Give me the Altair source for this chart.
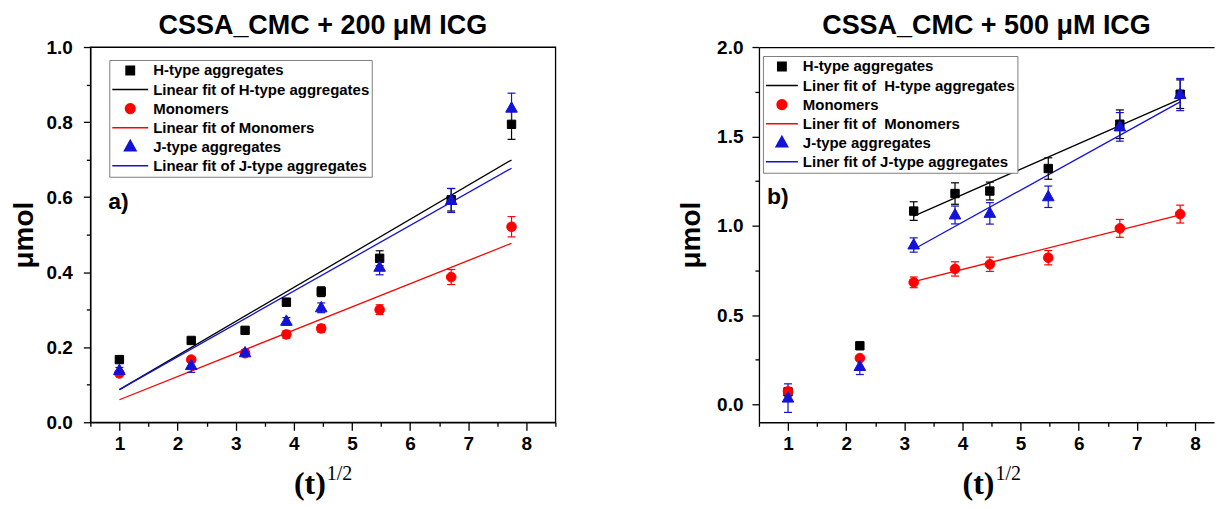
import math
import altair as alt
import pandas as pd

# ---------------- data ----------------
x_vals = [1.0, 2.236, 3.162, 3.873, 4.472, 5.477, 6.708, 7.746]

# panel a) CSSA_CMC + 200 uM ICG
a_labels = ["H-type aggregates", "Linear fit of H-type aggregates", "Monomers",
            "Linear fit of Monomers", "J-type aggregates", "Linear fit of J-type aggregates"]
a_h = [0.167, 0.218, 0.245, 0.320, 0.348, 0.437, 0.593, 0.794]
a_h_err = [0.004, 0.005, 0.006, 0.010, 0.013, 0.020, 0.030, 0.040]
a_m = [0.130, 0.167, 0.184, 0.234, 0.250, 0.300, 0.387, 0.521]
a_m_err = [0.004, 0.005, 0.006, 0.010, 0.010, 0.013, 0.020, 0.027]
a_j = [0.138, 0.151, 0.185, 0.269, 0.305, 0.413, 0.591, 0.837]
a_j_err = [0.008, 0.018, 0.008, 0.010, 0.013, 0.020, 0.032, 0.040]
a_fit_x = [1.0, 7.746]
a_fit_h = [0.087, 0.699]
a_fit_m = [0.060, 0.477]
a_fit_j = [0.087, 0.677]

# panel b) CSSA_CMC + 500 uM ICG
b_labels = ["H-type aggregates", "Liner fit of\u00a0 H-type aggregates", "Monomers",
            "Liner fit of\u00a0 Monomers", "J-type aggregates", "Liner fit of J-type aggregates"]
b_h = [0.070, 0.328, 1.082, 1.180, 1.194, 1.320, 1.568, 1.736]
b_h_err = [0.010, 0.010, 0.052, 0.060, 0.050, 0.060, 0.080, 0.080]
b_m = [0.073, 0.259, 0.683, 0.758, 0.784, 0.821, 0.985, 1.065]
b_m_err = [0.010, 0.010, 0.030, 0.040, 0.040, 0.040, 0.050, 0.050]
b_j = [0.035, 0.212, 0.892, 1.060, 1.069, 1.162, 1.553, 1.734]
b_j_err = [0.080, 0.045, 0.040, 0.050, 0.060, 0.060, 0.080, 0.090]
b_fit_x = [3.162, 7.746]
b_fit_h = [1.054, 1.708]
b_fit_m = [0.687, 1.060]
b_fit_j = [0.868, 1.693]

x_major = [1, 2, 3, 4, 5, 6, 7, 8]
x_minor = [0.5, 1.5, 2.5, 3.5, 4.5, 5.5, 6.5, 7.5, 8.5]
a_y_major = [0.0, 0.2, 0.4, 0.6, 0.8, 1.0]
a_y_minor = [0.1, 0.3, 0.5, 0.7, 0.9]
b_y_major = [0.0, 0.5, 1.0, 1.5, 2.0]
b_y_minor = [0.25, 0.75, 1.25, 1.75]

BLACK, RED, BLUE = "#000000", "#ff0000", "#1212d8"
series_colors = [BLACK, BLACK, RED, RED, BLUE, BLUE]

FONT = "Liberation Sans"
SERIF = "Liberation Serif"


def make_shapes(L):
    u = L / 2.0
    s = 4.2 / u
    r = 4.8 / u
    tw, tt, tb = 5.8 / u, 6.4 / u, 4.0 / u
    sq = f"M{-s:.4f},{-s:.4f}L{s:.4f},{-s:.4f}L{s:.4f},{s:.4f}L{-s:.4f},{s:.4f}Z"
    pts = []
    for k in range(24):
        a = 2 * math.pi * k / 24
        pts.append(f"{r * math.cos(a):.4f},{r * math.sin(a):.4f}")
    ci = "M" + "L".join(pts) + "Z"
    tr = f"M0,{-tt:.4f}L{tw:.4f},{tb:.4f}L{-tw:.4f},{tb:.4f}Z"
    ln = "M-1,0L1,0"
    return [sq, ln, ci, ln, tr, ln]


def panel(labels, series, errs, fit_x, fits, xdom, width, ydom, ymaj, ymin,
          title, letter, letter_xy, legend_xy, L, boxed, xt_x, lab_pad, tit_pad):
    height = 376
    rows = []
    for k, (vals, ers) in enumerate(zip(series, errs)):
        for xv, yv, ev in zip(x_vals, vals, ers):
            rows.append({"label": labels[2 * k], "x": xv, "y": yv,
                         "lo": yv - ev, "hi": yv + ev, "order": k})
    pts = pd.DataFrame(rows)
    frows = []
    for k, fy in enumerate(fits):
        for xv, yv in zip(fit_x, fy):
            frows.append({"label": labels[2 * k + 1], "x": xv, "y": yv})
    fit = pd.DataFrame(frows)

    xs = alt.Scale(domain=xdom, nice=False, zero=False)
    ys = alt.Scale(domain=ydom, nice=False, zero=False)
    cs = alt.Scale(domain=labels, range=series_colors)
    ss = alt.Scale(domain=labels, range=make_shapes(L))

    leg = alt.Legend(title=None, orient="none", legendX=legend_xy[0], legendY=legend_xy[1],
                     padding=2, clipHeight=17, rowPadding=2.1, symbolSize=L * L,
                     symbolStrokeWidth=1.5, labelFont=FONT, labelFontWeight="bold",
                     labelFontSize=15, labelColor="black", labelOffset=4, labelLimit=500,
                     strokeColor="#808080", fillColor="white", symbolOffset=0)

    main_x = alt.Axis(orient="bottom", values=x_major, format="d", tickSize=8,
                      labelPadding=4, title=None, grid=False)
    minor_x = alt.Axis(orient="bottom", values=x_minor, tickSize=4, labels=False,
                       domain=False, title=None, grid=False)
    main_y = alt.Axis(orient="left", values=ymaj, format=".1f", tickSize=7,
                      labelPadding=lab_pad, title="\u03bcmol", titleFont=FONT,
                      titleFontSize=28, titleFontWeight="bold", titlePadding=tit_pad,
                      grid=False)
    minor_y = alt.Axis(orient="left", values=ymin, tickSize=4, labels=False,
                       domain=False, title=None, grid=False)

    layers = []
    # fit lines (first one carries the minor-tick axes)
    for k in range(3):
        lab = labels[2 * k + 1]
        col = series_colors[2 * k + 1]
        layers.append(alt.Chart(fit).transform_filter(
            alt.datum.label == lab).mark_line(strokeWidth=1.3, color=col).encode(
            x=alt.X("x:Q", scale=xs, axis=minor_x if k == 0 else None),
            y=alt.Y("y:Q", scale=ys, axis=minor_y if k == 0 else None),
        ))
    # error bars
    for k in range(3):
        lab = labels[2 * k]
        col = series_colors[2 * k]
        b = alt.Chart(pts).transform_filter(alt.datum.label == lab)
        layers.append(b.mark_rule(strokeWidth=1.2, color=col).encode(
            x=alt.X("x:Q", scale=xs, axis=None),
            y=alt.Y("lo:Q", scale=ys, axis=None),
            y2="hi:Q",
        ))
        if boxed or k > 0:
            cap_x_axis = None
        else:
            cap_x_axis = alt.Axis(orient="top", labels=False, ticks=False, title=None,
                                  domain=True, grid=False)
        layers.append(b.transform_fold(["lo", "hi"], as_=["k", "v"]).mark_tick(
            orient="horizontal", size=8, thickness=1.2, opacity=1, color=col).encode(
            x=alt.X("x:Q", scale=xs, axis=cap_x_axis),
            y=alt.Y("v:Q", scale=ys, axis=None),
        ))
    # points + legend
    layers.append(alt.Chart(pts).mark_point(filled=True, size=L * L, opacity=1,
                                             strokeWidth=1).encode(
        x=alt.X("x:Q", scale=xs, axis=main_x),
        y=alt.Y("y:Q", scale=ys, axis=main_y),
        fill=alt.Fill("label:N", scale=cs, legend=leg),
        stroke=alt.Stroke("label:N", scale=cs, legend=leg),
        shape=alt.Shape("label:N", scale=ss, legend=leg),
        order="order:Q",
    ))
    layers.append(alt.Chart(pd.DataFrame({"t": [letter]})).mark_text(
        font=FONT, fontSize=23, fontWeight="bold", align="left", baseline="alphabetic",
        color="black").encode(text="t:N", x=alt.value(letter_xy[0]), y=alt.value(letter_xy[1])))
    layers.append(alt.Chart(pd.DataFrame({"t": ["(t)"]})).mark_text(
        font=SERIF, fontSize=32, fontWeight="bold", align="left", baseline="alphabetic",
        color="black").encode(text="t:N", x=alt.value(xt_x), y=alt.value(448)))
    layers.append(alt.Chart(pd.DataFrame({"t": ["1/2"]})).mark_text(
        font=SERIF, fontSize=20, align="left", baseline="alphabetic",
        color="black").encode(text="t:N", x=alt.value(xt_x + 33), y=alt.value(434)))

    view = alt.ViewBackground(stroke="black", strokeWidth=1.3) if boxed else \
        alt.ViewBackground(stroke="transparent")
    return alt.layer(*layers).resolve_axis(
        x="independent", y="independent").properties(
        width=width, height=height, view=view,
        title=alt.TitleParams(text=title, font=FONT, fontSize=27, fontWeight="bold",
                              anchor="middle", offset=-2, color="black"))


left = panel(a_labels, [a_h, a_m, a_j], [a_h_err, a_m_err, a_j_err], a_fit_x,
             [a_fit_h, a_fit_m, a_fit_j], [0.5, 8.5], 466, [0.0, 1.0],
             a_y_major, a_y_minor, "CSSA_CMC + 200 \u03bcM ICG", "a)", (18, 162),
             (19, 13), 36, True, 204, 11, 7.2)
right = panel(b_labels, [b_h, b_m, b_j], [b_h_err, b_m_err, b_j_err], b_fit_x,
              [b_fit_h, b_fit_m, b_fit_j], [0.5, 8.328], 456, [-0.1, 2.0],
              b_y_major, b_y_minor, "CSSA_CMC + 500 \u03bcM ICG", "b)", (8, 157),
              (4, 9), 32, False, 204, 9, 11)

chart = alt.hconcat(left, right, spacing=120).resolve_scale(
    fill="independent", stroke="independent", shape="independent",
    x="independent", y="independent").resolve_legend(
    fill="independent", stroke="independent", shape="independent").properties(
    padding={"left": 1.5, "top": 2.6, "right": 0, "bottom": 0},
    background="white").configure_axis(
    labelFont=FONT, labelFontSize=19, labelFontWeight="bold", labelColor="black",
    domainColor="black", tickColor="black", domainWidth=1.3, tickWidth=1.3,
    titleColor="black")

chart.save("out.html", embed_options={"renderer": "svg", "actions": False})
